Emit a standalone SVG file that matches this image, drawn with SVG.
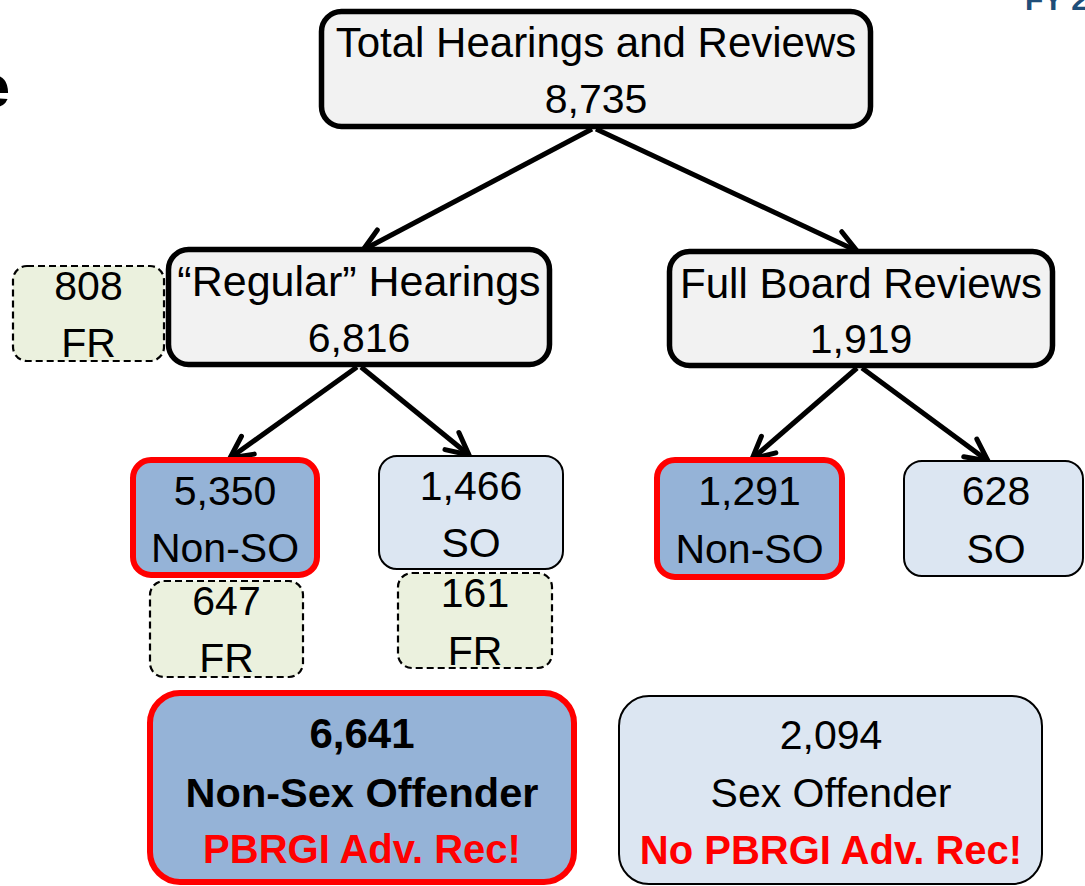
<svg xmlns="http://www.w3.org/2000/svg" width="1085" height="886" viewBox="0 0 1085 886">
<style>
  text { font-family: "Liberation Sans", Arial, sans-serif; font-size: 41px; fill: #000; text-anchor: middle; }
  .b { font-weight: bold; font-size: 40px; }
  .red { fill: #FF0000; }
  .gray { fill: #F2F2F2; stroke: #000; stroke-width: 5.5; }
  .hi { fill: #95B3D7; stroke: #FF0000; stroke-width: 6; }
  .lb { fill: #DCE6F2; stroke: #000; stroke-width: 2; }
  .fr { fill: #EBF1DE; stroke: #000; stroke-width: 2.2; stroke-dasharray: 7 4; }
  .conn line { stroke: #000; stroke-width: 5; marker-end: url(#arr); }
</style>
<defs>
  <marker id="arr" markerUnits="userSpaceOnUse" markerWidth="34" markerHeight="34" viewBox="0 0 34 34" refX="28" refY="17" orient="auto">
    <path d="M6,6 L28,17 L6,28" fill="none" stroke="#000" stroke-width="5" stroke-linecap="round" stroke-linejoin="miter"/>
  </marker>
</defs>
<rect width="1085" height="886" fill="#FFFFFF"/>
<text x="10" y="107" style="font-size:60px;font-weight:bold;text-anchor:end">e</text>
<text x="1025" y="10" style="font-size:30px;font-weight:bold;text-anchor:start;fill:#1F4E79">FY 2</text>

<g class="conn">
  <line x1="592" y1="129" x2="363" y2="250"/>
  <line x1="596" y1="129" x2="857" y2="251"/>
  <line x1="357" y1="367" x2="230" y2="458"/>
  <line x1="361" y1="367" x2="469" y2="455"/>
  <line x1="857" y1="368" x2="752" y2="459"/>
  <line x1="862" y1="368" x2="988" y2="461"/>
</g>

<g id="total">
  <rect class="gray" x="321.5" y="11.5" width="549" height="115" rx="20"/>
  <text x="596" y="57" style="font-size:42px">Total Hearings and Reviews</text>
  <text x="596" y="113">8,735</text>
</g>
<g id="regular">
  <rect class="gray" x="168.5" y="249.5" width="381" height="115" rx="20"/>
  <text x="359" y="296" style="font-size:43px">“Regular” Hearings</text>
  <text x="359" y="352">6,816</text>
</g>
<g id="fullboard">
  <rect class="gray" x="669.5" y="251.5" width="383" height="114" rx="20"/>
  <text x="861" y="298" style="font-size:42px">Full Board Reviews</text>
  <text x="861" y="353">1,919</text>
</g>
<g id="fr808">
  <rect class="fr" x="13" y="266" width="151" height="95" rx="14"/>
  <text x="88.5" y="300">808</text>
  <text x="88.5" y="357">FR</text>
</g>
<g id="nonso5350">
  <rect class="hi" x="133" y="460" width="184" height="115" rx="18"/>
  <text x="225" y="505">5,350</text>
  <text x="225" y="562">Non-SO</text>
</g>
<g id="so1466">
  <rect class="lb" x="379" y="456" width="184" height="113" rx="18"/>
  <text x="471" y="500">1,466</text>
  <text x="471" y="557">SO</text>
</g>
<g id="fr647">
  <rect class="fr" x="150" y="581" width="153" height="96" rx="14"/>
  <text x="226.5" y="615">647</text>
  <text x="226.5" y="672">FR</text>
</g>
<g id="fr161">
  <rect class="fr" x="398" y="573" width="154" height="95" rx="14"/>
  <text x="475" y="607">161</text>
  <text x="475" y="665">FR</text>
</g>
<g id="nonso1291">
  <rect class="hi" x="657" y="460" width="185" height="117" rx="18"/>
  <text x="749.5" y="505">1,291</text>
  <text x="749.5" y="563">Non-SO</text>
</g>
<g id="so628">
  <rect class="lb" x="904" y="461" width="179" height="115" rx="18"/>
  <text x="996" y="505">628</text>
  <text x="996" y="563">SO</text>
</g>
<g id="nonsex">
  <rect class="hi" x="150" y="693" width="424" height="189" rx="30"/>
  <text class="b" x="362" y="748" style="font-size:42px">6,641</text>
  <text class="b" x="362" y="807" style="font-size:41.5px">Non-Sex Offender</text>
  <text class="b red" x="362" y="863">PBRGI Adv. Rec!</text>
</g>
<g id="sex">
  <rect class="lb" x="619" y="696" width="423" height="188" rx="30"/>
  <text x="831" y="749">2,094</text>
  <text x="831" y="807">Sex Offender</text>
  <text class="b red" x="831" y="864">No PBRGI Adv. Rec!</text>
</g>
</svg>
